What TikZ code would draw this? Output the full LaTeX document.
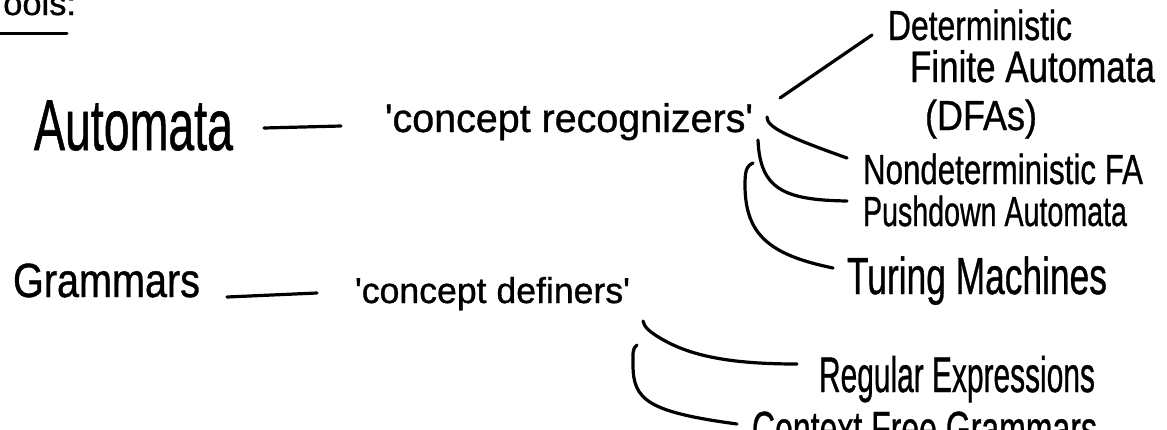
\documentclass[tikz,border=0pt]{standalone}
\usepackage{fontspec}
\setmainfont{Liberation Sans}[FakeBold=0.9]
\usetikzlibrary{calc}
% hand-lettered label: width (pt), font size (pt), text
\newcommand{\hw}[3]{\resizebox{#1pt}{\height}{\fontsize{#2pt}{#2pt}\selectfont #3}}
\newcommand{\q}{\textquotesingle}
\tikzset{
  pen/.style={line width=3.2pt, line cap=round, line join=round, black},
  lbl/.style={inner sep=0pt, outer sep=0pt, anchor=base west, text=black},
}
\begin{document}
\begin{tikzpicture}[x=1pt, y=-1pt]
  \useasboundingbox (0,0) rectangle (1167,429);
  \fill[white] (0,0) rectangle (1167,429);
  \clip (0,0) rectangle (1167,429);

  % heading at the top edge, with its underline
  \node[lbl, anchor=base east] (tools) at (76,15) {\hw{90}{34}{Tools:}};
  \coordinate (ulA) at (0,33);
  \coordinate (ulB) at (67,33);
  \draw[pen, line width=3pt] (ulA) -- (ulB);

  % first row: automata
  \node[lbl] (automata) at (34,150) {\hw{199}{72}{Automata}};
  \node[lbl] (recog) at (385,132) {\hw{368}{40}{\q concept recognizers\q}};
  \draw[pen] ($(automata.base east)+(31,-22)$) -- ($(recog.base west)+(-44,-6)$);

  % kinds of automata
  \node[lbl] (det)  at (888,40)  {\hw{184}{42}{Deterministic}};
  \node[lbl] (fin)  at (910,82)  {\hw{245}{44}{Finite Automata}};
  \node[lbl] (dfas) at (925,130) {\hw{112}{42}{(DFAs)}};
  \node[lbl] (nfa)  at (863,184) {\hw{280}{42}{Nondeterministic FA}};
  \node[lbl] (pda)  at (863,226) {\hw{264}{42}{Pushdown Automata}};
  \node[lbl] (tm)   at (847,294) {\hw{260}{52}{Turing Machines}};

  \coordinate (dfaS) at (780,98);
  \coordinate (dfaE) at (872,35);
  \coordinate (nfaS) at (767,117);
  \coordinate (nfaE) at (847,158);
  \coordinate (pdaS) at (758,140);
  \coordinate (pdaE) at (847,201);
  \coordinate (tmS)  at (753,163);
  \coordinate (tmE)  at (833,268);

  \draw[pen] (dfaS) -- (dfaE);
  \draw[pen] (nfaS) .. controls (767,127) and (785,136) .. (nfaE);
  \draw[pen] (pdaS) .. controls (760,190) and (785,200) .. (pdaE);
  \draw[pen] (tmS) .. controls (746,166) and (745,172) .. (745,185)
                   .. controls (745,235) and (770,255) .. (tmE);

  % second row: grammars
  \node[lbl] (grammars) at (13,297) {\hw{187}{48}{Grammars}};
  \node[lbl] (defin) at (355,303) {\hw{275}{36}{\q concept definers\q}};
  \draw[pen] ($(grammars.base east)+(27,0)$) -- ($(defin.base west)+(-38,-10)$);

  % kinds of grammars
  \node[lbl] (regex) at (819,392) {\hw{276}{50}{Regular Expressions}};
  \node[lbl] (cfg)   at (752,445) {\hw{345}{48}{Context Free Grammars}};

  \coordinate (reS)  at (643,321);
  \coordinate (reE)  at (797,364);
  \coordinate (cfgS) at (637,345);
  \coordinate (cfgE) at (737,424);

  \draw[pen] (reS) .. controls (644,327) and (650,332) .. (660,338)
                   .. controls (690,356) and (730,364) .. (reE);
  \draw[pen] (cfgS) .. controls (632,348) and (633,355) .. (633,365)
                    .. controls (633,400) and (648,412) .. (cfgE);
\end{tikzpicture}
\end{document}
